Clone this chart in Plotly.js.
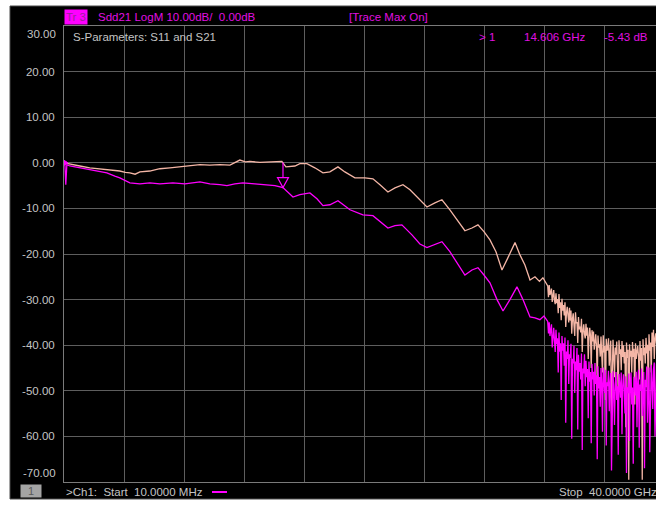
<!DOCTYPE html>
<html>
<head>
<meta charset="utf-8">
<script src="https://cdn.plot.ly/plotly-3.0.1.min.js"></script>
<style>
html,body{margin:0;padding:0;background:#ffffff;}
#chart{width:656px;height:506px;}
</style>
</head>
<body>
<div id="chart"></div>
<script>
// ---- Data ----
var startGHz = 0.01;      // Start 10.0000 MHz
var stopGHz = 40.0;       // Stop 40.0000 GHz
var refLevelDb = 0;
var yTickVals = [20, 10, 0, -10, -20, -30, -40, -50, -60];
var yTickText = ["20.00", "10.00", "0.00", "-10.00", "-20.00", "-30.00", "-40.00", "-50.00", "-60.00"];
var yTopLabel = "30.00";
var yBottomLabel = "-70.00";
var yTop = 30;
var yBottom = -70;

// Trace Max (max hold, pink)
var maxFreqGHz = [0.01,0.4,1.07,1.73,2.4,3.07,3.73,4.1,4.4,4.75,5.07,5.73,
  6.4,7.07,7.73,8.4,9.07,9.73,10.4,11.07,11.73,12.1,12.4,
  13.07,13.73,14.27,14.53,14.8,15.4,15.73,16.2,16.73,17.27,
  17.73,18.27,18.73,19.4,20.07,20.6,21.07,21.6,22.07,22.6,
  23.07,23.73,24.2,24.73,25.2,25.73,26.27,26.73,27.2,27.6,
  28.0,28.4,28.8,29.2,29.6,30.07,30.4,30.73,31.07,31.4,
  31.7,31.93,
  32.25,32.3,32.35,32.4,32.45,32.5,32.55,32.6,32.65,32.7,
  32.75,32.8,32.85,32.9,32.95,33.0,33.05,33.1,33.15,33.2,
  33.25,33.3,33.35,33.4,33.45,33.5,33.55,33.6,33.65,33.7,
  33.75,33.8,33.85,33.9,33.95,34.0,34.05,34.1,34.15,34.2,
  34.25,34.3,34.35,34.4,34.45,34.5,34.55,34.6,34.65,34.7,
  34.75,34.8,34.85,34.9,34.95,35.0,35.05,35.1,35.15,35.2,
  35.25,35.3,35.35,35.4,35.45,35.5,35.55,35.6,35.65,35.7,
  35.75,35.8,35.85,35.9,35.95,36.0,36.05,36.1,36.15,36.2,
  36.25,36.3,36.35,36.4,36.45,36.5,36.55,36.6,36.65,36.7,
  36.75,36.8,36.85,36.9,36.95,37.0,37.05,37.1,37.15,37.2,
  37.25,37.3,37.35,37.4,37.45,37.5,37.55,37.6,37.65,37.7,
  37.75,37.8,37.85,37.9,37.95,38.0,38.05,38.1,38.15,38.2,
  38.25,38.3,38.35,38.4,38.45,38.5,38.55,38.6,38.65,38.7,
  38.75,38.8,38.85,38.9,38.95,39.0,39.05,39.1,39.15,39.2,
  39.25,39.3,39.35,39.4,39.45,39.5];
var maxDb = [0,-0.2,-0.7,-1.1,-1.3,-1.5,-1.8,-2.1,-2.2,-2.5,-2.0,-1.8,
  -1.3,-1.1,-0.9,-0.6,-0.4,-0.5,-0.4,-0.5,0.6,0.2,0.3,
  0.1,0.2,0.2,0.3,-0.9,-0.7,-0.2,-0.2,-1.1,-2.2,
  -2.0,-0.9,-2.0,-3.3,-3.3,-3.5,-4.8,-6.4,-5.5,-4.8,
  -5.9,-8.1,-9.7,-8.8,-8.1,-10.3,-12.9,-14.9,-14.3,-13.6,
  -15.1,-16.9,-19.5,-23.5,-20.8,-17.5,-20.2,-22.4,-25.7,-25.0,
  -26.0,-25.2,
  -27.0,-29.5,-26.8,-29.0,-28.4,-27.6,-30.5,-28.9,-27.9,-30.2,
  -31.0,-28.6,-30.8,-29.9,-33.0,-28.8,-31.8,-30.6,-34.5,-29.8,
  -32.4,-31.2,-33.5,-30.6,-36.0,-32.9,-31.6,-33.4,-35.0,-31.8,
  -34.6,-32.4,-37.5,-34.2,-33.0,-35.6,-38.0,-32.8,-35.2,-34.9,
  -39.5,-33.8,-36.5,-35.9,-37.2,-34.2,-41.5,-36.8,-35.4,-37.6,
  -38.5,-35.3,-37.9,-36.1,-43.0,-38.4,-36.2,-37.8,-45.0,-36.7,
  -39.2,-37.0,-41.0,-39.4,-37.6,-40.1,-48.0,-37.9,-40.5,-39.8,
  -42.5,-38.1,-40.9,-46.0,-37.8,-41.6,-40.2,-52.0,-38.6,-41.1,
  -41.0,-38.5,-44.5,-40.7,-39.0,-55.0,-41.4,-38.8,-42.3,-47.0,
  -40.5,-42.1,-39.2,-43.0,-50.0,-38.9,-41.9,-40.9,-45.5,-39.1,
  -42.6,-40.0,-44.0,-41.5,-58.0,-39.4,-42.8,-41.0,-69.5,-39.8,
  -42.5,-41.2,-46.0,-39.3,-42.6,-40.8,-53.0,-39.6,-43.0,-41.4,
  -40.2,-42.4,-47.5,-39.1,-43.4,-40.6,-69.5,-38.7,-42.2,-40.5,
  -44.0,-38.4,-41.8,-39.9,-50.5,-37.6,-41.2,-39.4,-46.0,-37.2,
  -40.4,-36.6,-43.0,-38.5,-37.4,-39.6];

// Sdd21 (trace 3, magenta)
var sddFreqGHz = [0.01,0.07,0.13,0.2,0.4,1.07,1.73,2.4,2.87,3.4,
  3.73,4.4,5.07,5.73,6.4,7.27,8.07,9.07,9.73,10.4,
  10.87,11.4,11.93,12.73,13.4,14.07,14.606,15.27,15.73,16.4,
  16.87,17.27,17.73,18.27,19.07,19.93,20.6,21.07,21.6,22.07,
  22.53,23.2,23.73,24.2,24.73,25.2,25.73,26.27,26.73,27.2,
  27.6,28.0,28.4,28.87,29.27,29.73,30.2,30.6,31.07,31.4,
  31.73,32.0,
  32.25,32.3,32.35,32.4,32.45,32.5,32.55,32.6,32.65,32.7,
  32.75,32.8,32.85,32.9,32.95,33.0,33.05,33.1,33.15,33.2,
  33.25,33.3,33.35,33.4,33.45,33.5,33.55,33.6,33.65,33.7,
  33.75,33.8,33.85,33.9,33.95,34.0,34.05,34.1,34.15,34.2,
  34.25,34.3,34.35,34.4,34.45,34.5,34.55,34.6,34.65,34.7,
  34.75,34.8,34.85,34.9,34.95,35.0,35.05,35.1,35.15,35.2,
  35.25,35.3,35.35,35.4,35.45,35.5,35.55,35.6,35.65,35.7,
  35.75,35.8,35.85,35.9,35.95,36.0,36.05,36.1,36.15,36.2,
  36.25,36.3,36.35,36.4,36.45,36.5,36.55,36.6,36.65,36.7,
  36.75,36.8,36.85,36.9,36.95,37.0,37.05,37.1,37.15,37.2,
  37.25,37.3,37.35,37.4,37.45,37.5,37.55,37.6,37.65,37.7,
  37.75,37.8,37.85,37.9,37.95,38.0,38.05,38.1,38.15,38.2,
  38.25,38.3,38.35,38.4,38.45,38.5,38.55,38.6,38.65,38.7,
  38.75,38.8,38.85,38.9,38.95,39.0,39.05,39.1,39.15,39.2,
  39.25,39.3,39.35,39.4,39.45,39.5];
var sddDb = [0,-0.4,-4.8,-0.4,-0.7,-1.1,-1.5,-2.0,-2.2,-2.9,
  -3.3,-4.4,-4.6,-4.4,-4.6,-4.4,-4.6,-4.2,-4.6,-4.8,
  -5.0,-4.6,-4.4,-4.6,-4.8,-5.0,-5.43,-7.5,-7.0,-6.6,
  -7.9,-9.4,-9.2,-8.3,-10.3,-11.4,-11.6,-12.9,-14.3,-13.8,
  -13.6,-15.8,-17.8,-18.6,-18.0,-17.3,-19.5,-22.4,-24.6,-23.5,
  -23.0,-24.6,-26.3,-30.0,-32.5,-30.0,-27.2,-30.0,-33.8,-34.0,
  -34.4,-33.6,
  -34.8,-37.4,-35.0,-38.0,-36.6,-35.4,-40.5,-37.1,-36.2,-38.9,
  -41.5,-36.6,-39.8,-38.5,-46.0,-37.2,-41.4,-39.6,-52.0,-38.0,
  -41.2,-39.6,-44.5,-38.3,-57.0,-41.4,-43.0,-38.9,-48.5,-42.0,
  -42.8,-39.7,-60.5,-43.0,-44.0,-40.1,-50.5,-43.6,-45.5,-40.6,
  -58.5,-42.1,-45.8,-43.9,-47.5,-41.8,-63.0,-45.1,-46.2,-42.0,
  -49.0,-43.4,-47.0,-45.2,-56.0,-43.6,-48.0,-45.9,-61.5,-44.1,
  -47.5,-45.8,-51.0,-43.9,-48.5,-46.6,-65.0,-44.6,-49.5,-47.0,
  -53.5,-45.0,-48.3,-59.0,-44.9,-47.8,-50.5,-45.4,-62.0,-48.1,
  -49.0,-45.6,-54.5,-48.2,-46.1,-67.5,-48.9,-45.7,-50.0,-57.5,
  -48.5,-45.9,-52.0,-49.0,-64.0,-46.3,-48.6,-51.5,-46.0,-59.5,
  -48.9,-46.4,-49.8,-55.0,-46.8,-68.0,-49.2,-50.5,-46.2,-61.0,
  -48.8,-46.0,-53.0,-49.3,-66.0,-46.9,-48.1,-51.0,-45.8,-58.0,
  -48.0,-45.4,-62.5,-48.6,-50.0,-45.1,-55.5,-49.0,-45.9,-67.0,
  -47.6,-49.2,-44.7,-57.0,-48.1,-44.9,-63.5,-47.8,-44.3,-48.5,
  -54.0,-45.3,-43.8,-60.0,-46.9,-44.0];

// Marker 1
var markerFreqGHz = 14.606;
var markerDb = -5.43;
var markerLabel = "14.606 GHz";
var markerValueLabel = "-5.43 dB";

// ---- Styling ----
var W = 656, H = 506;
var L = 64, T = 26, B = 24;
var plotW = W - L;            // plot area runs to the right edge (cut off)
var plotH = H - T - B;
var divPx = 60;               // 10 divisions of 60 px across the full span
var xEnd = startGHz + (stopGHz - startGHz) * plotW / (divPx * 10);

function px(x) { return (x - L) / plotW; }
function py(y) { return (H - B - y) / plotH; }

var gray = "#c4c4c4";
var magenta = "#ff00ff";
var magentaText = "#e010e0";
var pink = "#f4b6a6";
var gridColor = "#5e5e5e";
var fontFam = "Liberation Sans, Arial, sans-serif";

var traces = [
  {
    x: maxFreqGHz, y: maxDb, type: "scatter", mode: "lines",
    line: {color: pink, width: 1.3}, hoverinfo: "skip"
  },
  {
    x: sddFreqGHz, y: sddDb, type: "scatter", mode: "lines",
    line: {color: magenta, width: 1.3}, hoverinfo: "skip"
  }
];

var annotations = [
  {xref: "paper", yref: "y", x: 0, y: yTop, text: yTopLabel, showarrow: false,
   xanchor: "right", yanchor: "middle", xshift: -6, yshift: -8,
   font: {family: fontFam, size: 11.5, color: gray}},
  {xref: "paper", yref: "y", x: 0, y: yBottom, text: yBottomLabel, showarrow: false,
   xanchor: "right", yanchor: "middle", xshift: -6, yshift: 9,
   font: {family: fontFam, size: 11.5, color: gray}},
  {xref: "paper", yref: "paper", x: px(64), y: py(16.5), text: "Tr 3", showarrow: false,
   xanchor: "left", yanchor: "middle", bgcolor: magenta, borderpad: 1,
   font: {family: fontFam, size: 11.5, color: "#9a209a"}},
  {xref: "paper", yref: "paper", x: px(96), y: py(16.5), text: "Sdd21 LogM 10.00dB/  0.00dB", showarrow: false,
   xanchor: "left", yanchor: "middle",
   font: {family: fontFam, size: 11.5, color: magentaText}},
  {xref: "paper", yref: "paper", x: px(347), y: py(16.5), text: "[Trace Max On]", showarrow: false,
   xanchor: "left", yanchor: "middle",
   font: {family: fontFam, size: 11.5, color: magentaText}},
  {xref: "paper", yref: "paper", x: px(71), y: py(37), text: "S-Parameters: S11 and S21", showarrow: false,
   xanchor: "left", yanchor: "middle",
   font: {family: fontFam, size: 11.5, color: gray}},
  {xref: "paper", yref: "paper", x: px(477), y: py(37), text: "&gt; 1", showarrow: false,
   xanchor: "left", yanchor: "middle",
   font: {family: fontFam, size: 11.5, color: magentaText}},
  {xref: "paper", yref: "paper", x: px(522), y: py(37), text: markerLabel, showarrow: false,
   xanchor: "left", yanchor: "middle",
   font: {family: fontFam, size: 11.5, color: magentaText}},
  {xref: "paper", yref: "paper", x: px(602), y: py(37), text: markerValueLabel, showarrow: false,
   xanchor: "left", yanchor: "middle",
   font: {family: fontFam, size: 11.5, color: magentaText}},
  {xref: "paper", yref: "paper", x: px(20), y: py(491.5), text: "1", showarrow: false,
   xanchor: "left", yanchor: "middle", bgcolor: "#a4a4a4", width: 20, height: 12, borderpad: 0,
   font: {family: fontFam, size: 11, color: "#5a5a5a"}},
  {xref: "paper", yref: "paper", x: px(64), y: py(492), text: "&gt;Ch1:  Start  10.0000 MHz", showarrow: false,
   xanchor: "left", yanchor: "middle",
   font: {family: fontFam, size: 11.5, color: gray}},
  {xref: "paper", yref: "paper", x: px(557), y: py(492), text: "Stop  40.0000 GHz", showarrow: false,
   xanchor: "left", yanchor: "middle",
   font: {family: fontFam, size: 11.5, color: gray}}
];

var shapes = [
  {type: "rect", xref: "paper", yref: "paper", x0: px(10), x1: px(W + 2), y0: py(499), y1: py(6),
   fillcolor: "#000000", line: {color: "#4a4a4a", width: 1}, layer: "below"},
  {type: "path", xref: "x", yref: "y", xsizemode: "pixel", ysizemode: "pixel",
   xanchor: startGHz, yanchor: refLevelDb,
   path: "M -4 5 L 4 0 L -4 -5 Z", fillcolor: magenta, line: {color: magenta, width: 1}},
  {type: "path", xref: "x", yref: "y", xsizemode: "pixel", ysizemode: "pixel",
   xanchor: markerFreqGHz, yanchor: markerDb,
   path: "M -5.5 10 L 5.5 10 L 0 0 Z M 0 10 L 0 25",
   line: {color: magenta, width: 1.2}},
  {type: "line", xref: "paper", yref: "paper", x0: px(212), x1: px(227), y0: py(492), y1: py(492),
   line: {color: magenta, width: 2}}
];

var layout = {
  width: W, height: H,
  margin: {l: L, r: 0, t: T, b: B, pad: 0},
  paper_bgcolor: "#ffffff",
  plot_bgcolor: "#000000",
  showlegend: false,
  xaxis: {
    range: [startGHz, xEnd], autorange: false,
    tick0: startGHz, dtick: (stopGHz - startGHz) / 10,
    showgrid: true, gridcolor: gridColor, gridwidth: 1,
    zeroline: false, showticklabels: false, ticks: "",
    showline: true, linecolor: "#7a7a7a", linewidth: 1, mirror: true,
    fixedrange: true
  },
  yaxis: {
    range: [yBottom, yTop], autorange: false,
    tickmode: "array", tickvals: yTickVals, ticktext: yTickText,
    showgrid: true, gridcolor: gridColor, gridwidth: 1,
    zeroline: false, ticks: "", ticklabelstandoff: 6,
    tickfont: {family: fontFam, size: 11.5, color: gray},
    showline: true, linecolor: "#7a7a7a", linewidth: 1, mirror: true,
    automargin: false, fixedrange: true
  },
  annotations: annotations,
  shapes: shapes
};

Plotly.newPlot("chart", traces, layout, {staticPlot: true, displayModeBar: false});
</script>
</body>
</html>
